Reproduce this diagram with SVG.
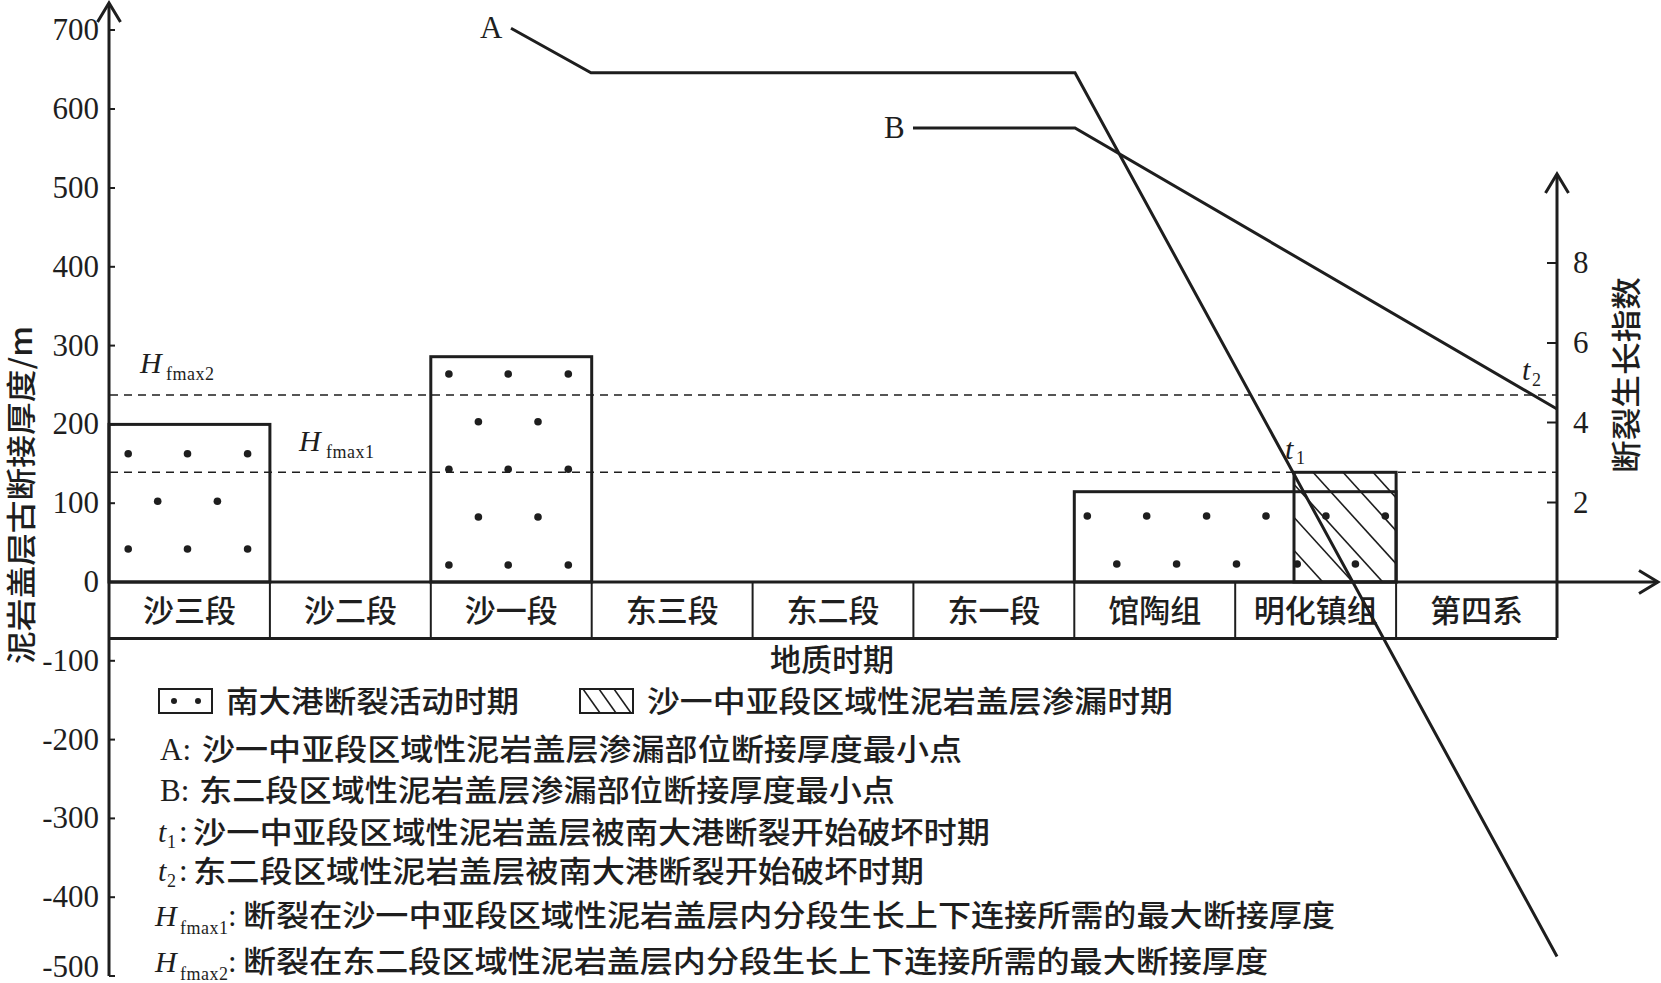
<svg xmlns="http://www.w3.org/2000/svg" width="1661" height="983" viewBox="0 0 1661 983">
<style>
.ax{stroke:#1e1e1e;stroke-width:3;fill:none}
.thin{stroke:#1e1e1e;stroke-width:2;fill:none}
.box{stroke:#1e1e1e;stroke-width:3;fill:none}
.hatch{stroke:#1e1e1e;stroke-width:1.6;fill:none}
.dash{stroke:#1e1e1e;stroke-width:1.6;stroke-dasharray:8 6;fill:none}
.conn{stroke:#1e1e1e;stroke-width:3;fill:none;stroke-linejoin:miter}
.dot{fill:#1e1e1e}
.num{font-family:"Liberation Serif","Times New Roman",serif;font-size:31px;fill:#1e1e1e}
.it{font-family:"Liberation Serif","Times New Roman",serif;font-style:italic;font-size:30px;fill:#1e1e1e}
.sub{font-family:"Liberation Serif","Times New Roman",serif;font-size:18px;fill:#1e1e1e}
.cat{font-family:"Noto Sans CJK SC","Noto Sans CJK JP",sans-serif;font-size:31px;font-weight:500;fill:#1e1e1e;text-anchor:middle}
.cjk{font-family:"Noto Sans CJK SC","Noto Sans CJK JP",sans-serif;font-size:30px;font-weight:500;fill:#1e1e1e}
</style>
<defs>
<marker id="arr" viewBox="-22 -14 26 28" refX="0" refY="0" markerWidth="26" markerHeight="28" orient="auto" markerUnits="userSpaceOnUse">
<path d="M-19,-11.5 L0,0 L-19,11.5" fill="none" stroke="#1e1e1e" stroke-width="3"/>
</marker>
<clipPath id="hclip"><rect x="1294" y="472.3" width="102.7" height="109.7"/></clipPath>
<clipPath id="lclip"><rect x="580" y="689" width="53" height="24"/></clipPath>
</defs>
<rect width="1661" height="983" fill="#ffffff"/>

<g id="left-axis">
<line class="ax" x1="109" y1="976" x2="109" y2="3" marker-end="url(#arr)"/>
<g class="thin">
<line x1="109" y1="30" x2="115" y2="30"/><line x1="109" y1="109" x2="115" y2="109"/>
<line x1="109" y1="188" x2="115" y2="188"/><line x1="109" y1="266.8" x2="115" y2="266.8"/>
<line x1="109" y1="345.6" x2="115" y2="345.6"/><line x1="109" y1="424.4" x2="115" y2="424.4"/>
<line x1="109" y1="503.2" x2="115" y2="503.2"/>
<line x1="109" y1="660.8" x2="115" y2="660.8"/><line x1="109" y1="739.6" x2="115" y2="739.6"/>
<line x1="109" y1="818.4" x2="115" y2="818.4"/><line x1="109" y1="897.2" x2="115" y2="897.2"/>
<line x1="109" y1="976" x2="115" y2="976"/>
</g>
<g class="num" text-anchor="end">
<text x="99" y="40">700</text><text x="99" y="119">600</text><text x="99" y="198">500</text>
<text x="99" y="277">400</text><text x="99" y="356">300</text><text x="99" y="434">200</text>
<text x="99" y="513">100</text><text x="99" y="592">0</text><text x="99" y="671">-100</text>
<text x="99" y="750">-200</text><text x="99" y="828">-300</text><text x="99" y="907">-400</text>
<text x="99" y="977">-500</text>
</g>
<text class="cjk" transform="translate(32,664) rotate(-90)" font-size="31" textLength="338" lengthAdjust="spacingAndGlyphs">泥岩盖层古断接厚度/m</text>
</g>

<g id="right-axis">
<line class="ax" x1="1557" y1="638" x2="1557" y2="174" marker-end="url(#arr)"/>
<g class="thin">
<line x1="1547" y1="502.5" x2="1557" y2="502.5"/><line x1="1547" y1="422.5" x2="1557" y2="422.5"/>
<line x1="1547" y1="343" x2="1557" y2="343"/><line x1="1547" y1="263" x2="1557" y2="263"/>
</g>
<g class="num">
<text x="1573" y="513">2</text><text x="1573" y="433">4</text><text x="1573" y="353">6</text><text x="1573" y="273">8</text>
</g>
<text class="cjk" transform="translate(1637,473) rotate(-90)" font-size="31" textLength="196" lengthAdjust="spacingAndGlyphs">断裂生长指数</text>
</g>

<g id="x-axis">
<line class="ax" x1="109" y1="582" x2="1658" y2="582" marker-end="url(#arr)"/>
<line class="ax" x1="109" y1="638.5" x2="1557" y2="638.5"/>
<g class="thin">
<line x1="269.9" y1="582" x2="269.9" y2="638.5"/><line x1="430.8" y1="582" x2="430.8" y2="638.5"/>
<line x1="591.7" y1="582" x2="591.7" y2="638.5"/><line x1="752.6" y1="582" x2="752.6" y2="638.5"/>
<line x1="913.4" y1="582" x2="913.4" y2="638.5"/><line x1="1074.3" y1="582" x2="1074.3" y2="638.5"/>
<line x1="1235.2" y1="582" x2="1235.2" y2="638.5"/><line x1="1396.1" y1="582" x2="1396.1" y2="638.5"/>
</g>
<g class="cat">
<text x="189.5" y="622">沙三段</text><text x="350.4" y="622">沙二段</text><text x="511.3" y="622">沙一段</text>
<text x="672.2" y="622">东三段</text><text x="833" y="622">东二段</text><text x="993.9" y="622">东一段</text>
<text x="1154.8" y="622">馆陶组</text><text x="1315.7" y="622">明化镇组</text><text x="1476.6" y="622">第四系</text>
</g>
<text class="cat" x="832" y="671">地质时期</text>
</g>

<g id="thresholds">
<line class="dash" x1="110" y1="395" x2="1557" y2="395"/>
<line class="dash" x1="110" y1="472.3" x2="1557" y2="472.3"/>
<text class="it" x="140" y="373">H</text><text class="sub" x="166" y="380" letter-spacing="0.5">fmax2</text>
<text class="it" x="299" y="451">H</text><text class="sub" x="326" y="458" letter-spacing="0.5">fmax1</text>
</g>

<g id="box-sha3">
<rect class="box" x="109" y="424.4" width="160.9" height="157.6"/>
<g class="dot">
<circle cx="128.2" cy="453.7" r="3.8"/><circle cx="187.5" cy="453.7" r="3.8"/><circle cx="247.6" cy="453.7" r="3.8"/>
<circle cx="157.7" cy="501.3" r="3.8"/><circle cx="217.4" cy="501.3" r="3.8"/>
<circle cx="128.2" cy="549" r="3.8"/><circle cx="187.5" cy="549" r="3.8"/><circle cx="247.6" cy="549" r="3.8"/>
</g>
</g>

<g id="box-sha1">
<rect class="box" x="430.8" y="356.7" width="160.9" height="225.3"/>
<g class="dot">
<circle cx="448.9" cy="374" r="3.8"/><circle cx="508.2" cy="374" r="3.8"/><circle cx="568.3" cy="374" r="3.8"/>
<circle cx="478.4" cy="421.7" r="3.8"/><circle cx="538" cy="421.7" r="3.8"/>
<circle cx="448.9" cy="469.3" r="3.8"/><circle cx="508.2" cy="469.3" r="3.8"/><circle cx="568.3" cy="469.3" r="3.8"/>
<circle cx="478.4" cy="517" r="3.8"/><circle cx="538" cy="517" r="3.8"/>
<circle cx="448.9" cy="565" r="3.8"/><circle cx="508.2" cy="565" r="3.8"/><circle cx="568.3" cy="565" r="3.8"/>
</g>
</g>

<g id="box-minghuazhen-hatch">
<g clip-path="url(#hclip)" class="hatch">
<line x1="1163" y1="472.3" x2="1263" y2="582.3"/><line x1="1193" y1="472.3" x2="1293" y2="582.3"/>
<line x1="1223" y1="472.3" x2="1323" y2="582.3"/><line x1="1253" y1="472.3" x2="1353" y2="582.3"/>
<line x1="1283" y1="472.3" x2="1383" y2="582.3"/><line x1="1313" y1="472.3" x2="1413" y2="582.3"/>
<line x1="1343" y1="472.3" x2="1443" y2="582.3"/><line x1="1373" y1="472.3" x2="1473" y2="582.3"/>
</g>
<rect class="box" x="1294" y="472.3" width="102.1" height="109.7"/>
</g>

<g id="box-guantao">
<rect class="box" x="1074.3" y="491.7" width="321.8" height="90.3"/>
<g class="dot">
<circle cx="1087.3" cy="516" r="3.8"/><circle cx="1146.7" cy="516" r="3.8"/><circle cx="1206.6" cy="516" r="3.8"/>
<circle cx="1266" cy="516" r="3.8"/><circle cx="1325.9" cy="516" r="3.8"/><circle cx="1385.3" cy="516" r="3.8"/>
<circle cx="1116.8" cy="564" r="3.8"/><circle cx="1176.6" cy="564" r="3.8"/><circle cx="1236.5" cy="564" r="3.8"/>
<circle cx="1297.2" cy="564" r="3.8"/><circle cx="1355.4" cy="564" r="3.8"/>
</g>
</g>

<g id="connectors">
<polyline class="conn" points="511,28.3 591,72.7 1075,72.7 1557,956.5"/>
<polyline class="conn" points="913,128 1075,128 1557,409"/>
</g>

<g id="point-labels">
<text class="num" x="480" y="38">A</text>
<text class="num" x="884" y="138">B</text>
<text class="it" x="1285" y="459">t</text><text class="sub" x="1296" y="464">1</text>
<text class="it" x="1522" y="380">t</text><text class="sub" x="1532" y="386">2</text>
</g>

<g id="legend">
<rect class="thin" x="159" y="689" width="53" height="24"/>
<circle class="dot" cx="174" cy="701" r="3"/><circle class="dot" cx="198" cy="701" r="3"/>
<text class="cjk" x="226" y="712" textLength="293" lengthAdjust="spacingAndGlyphs">南大港断裂活动时期</text>
<g clip-path="url(#lclip)" class="hatch">
<line x1="583" y1="689" x2="600" y2="713"/><line x1="599" y1="689" x2="616" y2="713"/><line x1="614" y1="689" x2="631" y2="713"/>
</g>
<rect class="thin" x="580" y="689" width="53" height="24"/>
<text class="cjk" x="647" y="712" textLength="526" lengthAdjust="spacingAndGlyphs">沙一中亚段区域性泥岩盖层渗漏时期</text>

<text class="num" x="160" y="760">A:</text>
<text class="cjk" x="202" y="760" textLength="760" lengthAdjust="spacingAndGlyphs">沙一中亚段区域性泥岩盖层渗漏部位断接厚度最小点</text>

<text class="num" x="160" y="801">B:</text>
<text class="cjk" x="199" y="801" textLength="696" lengthAdjust="spacingAndGlyphs">东二段区域性泥岩盖层渗漏部位断接厚度最小点</text>

<text class="it" x="158" y="842">t</text><text class="sub" x="167" y="848">1</text><text class="num" x="179" y="842">:</text>
<text class="cjk" x="193" y="843" textLength="797" lengthAdjust="spacingAndGlyphs">沙一中亚段区域性泥岩盖层被南大港断裂开始破坏时期</text>

<text class="it" x="158" y="881">t</text><text class="sub" x="167" y="887">2</text><text class="num" x="179" y="881">:</text>
<text class="cjk" x="193" y="882" textLength="731" lengthAdjust="spacingAndGlyphs">东二段区域性泥岩盖层被南大港断裂开始破坏时期</text>

<text class="it" x="155" y="926">H</text><text class="sub" x="180" y="934" letter-spacing="0.5">fmax1</text><text class="num" x="228" y="926">:</text>
<text class="cjk" x="243" y="926" textLength="1092" lengthAdjust="spacingAndGlyphs">断裂在沙一中亚段区域性泥岩盖层内分段生长上下连接所需的最大断接厚度</text>

<text class="it" x="155" y="972">H</text><text class="sub" x="180" y="980" letter-spacing="0.5">fmax2</text><text class="num" x="228" y="972">:</text>
<text class="cjk" x="243" y="972" textLength="1025" lengthAdjust="spacingAndGlyphs">断裂在东二段区域性泥岩盖层内分段生长上下连接所需的最大断接厚度</text>
</g>
</svg>
